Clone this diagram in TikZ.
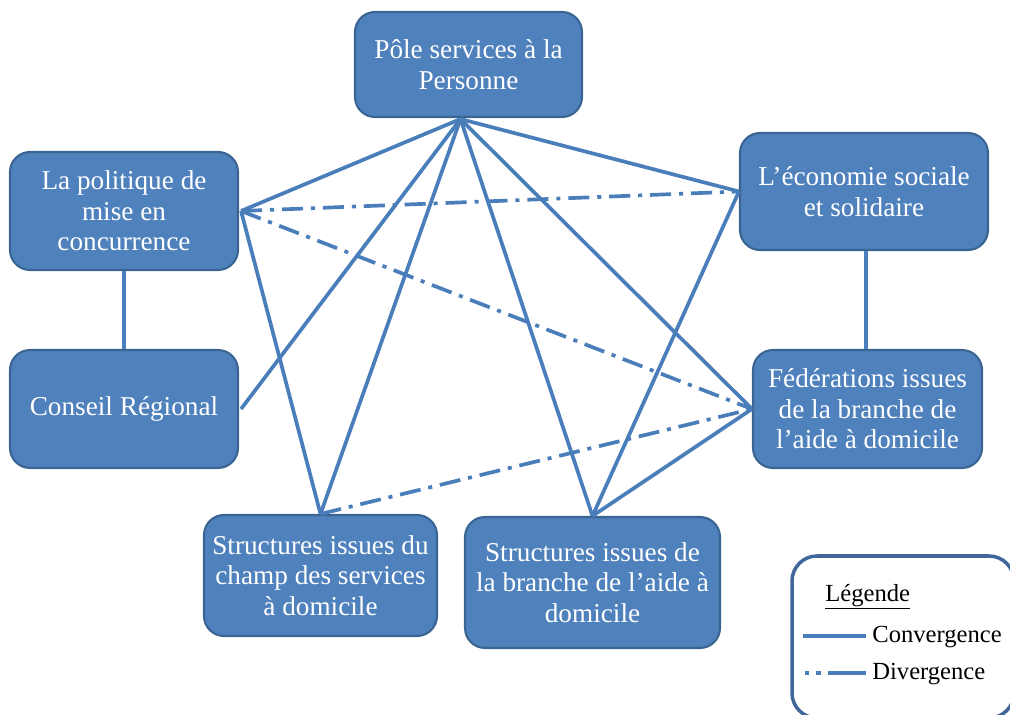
\documentclass[tikz,border=0pt]{standalone}
\usepackage{fontspec}
\setmainfont{Liberation Serif}
\usetikzlibrary{calc}
\definecolor{boxfill}{HTML}{4F81BD}
\definecolor{boxedge}{HTML}{3A6592}
\definecolor{linkc}{HTML}{4A7EBB}
\definecolor{legedge}{HTML}{41679A}
\tikzset{
  box/.style={draw=boxedge, line width=1.2pt, fill=boxfill, rounded corners=0.4cm,
    text=white, align=center, inner sep=2pt,
    font=\fontsize{15.5}{17.3}\selectfont},
  conv/.style={draw=linkc, line width=2.1pt},
  divg/.style={draw=linkc, line width=2.1pt, dash pattern=on 12pt off 4.5pt on 2.3pt off 4.5pt},
  legtext/.style={anchor=base west, inner sep=0pt, font=\fontsize{14}{16}\selectfont}
}
\begin{document}
\begin{tikzpicture}[x=0.02cm, y=-0.02cm]
\useasboundingbox (0,0) rectangle (1010,715);
\clip (0,0) rectangle (1010,715);
% boxes
\node[box, minimum width=4.54cm, minimum height=2.1cm] (pole) at (468.5,64.5) {Pôle services à la\\Personne};
\node[box, minimum width=4.56cm, minimum height=2.36cm] (pol) at (124,211) {La politique de\\mise en\\concurrence};
\node[box, minimum width=4.56cm, minimum height=2.36cm] (cons) at (124,409) {Conseil Régional};
\node[box, minimum width=4.96cm, minimum height=2.34cm] (eco) at (864,191.5) {L’économie sociale\\et solidaire};
\node[box, minimum width=4.58cm, minimum height=2.36cm] (fed) at (867.5,409) {Fédérations issues\\de la branche de\\l’aide à domicile};
\node[box, minimum width=4.66cm, minimum height=2.42cm] (ss) at (320.5,575.5) {Structures issues du\\champ des services\\à domicile};
\node[box, minimum width=5.1cm, minimum height=2.62cm] (sa) at (592.5,582.5) {Structures issues de\\la branche de l’aide à\\domicile};
% anchor points
\coordinate (pP) at ($(pole.south)+(-8,1)$);
\coordinate (polR) at ($(pol.east)+(2,0)$);
\coordinate (consR) at ($(cons.east)+(2,0)$);
\coordinate (ecoL) at (eco.west);
\coordinate (fedL) at (fed.west);
\coordinate (ssT) at (ss.north);
\coordinate (saT) at (sa.north);
% convergence links
\draw[conv] (pP) -- (polR);
\draw[conv] (pP) -- (consR);
\draw[conv] (pP) -- (ssT);
\draw[conv] (pP) -- (saT);
\draw[conv] (pP) -- (fedL);
\draw[conv] (pP) -- (ecoL);
\draw[conv] (polR) -- (ssT);
\draw[conv] (ecoL) -- (saT);
\draw[conv] (fedL) -- (saT);
\draw[conv] (pol.south) -- (cons.north);
\draw[conv] ($(eco.south)+(2,0)$) -- ($(fed.north)+(-1.5,0)$);
% divergence links
\draw[divg] (polR) -- (ecoL);
\draw[divg] (polR) -- (fedL);
\draw[divg] (ssT) -- (fedL);
% legend
\draw[legedge, line width=2pt, fill=white, rounded corners=0.5cm] (792,556) rectangle (1014,718);
\node[legtext] (legT) at (825,601) {\underline{Légende}};
\coordinate (lc1) at (803,636);
\coordinate (lc2) at (866,636);
\draw[conv] (lc1) -- (lc2);
\node[legtext] (legC) at (872,642) {Convergence};
\coordinate (ld1) at (866,673);
\coordinate (ld2) at (803,673);
\draw[draw=linkc, line width=2.3pt, dash pattern=on 21.6pt off 4pt on 2.6pt off 4pt on 2.6pt off 4pt] (ld1) -- (ld2);
\node[legtext] (legD) at (872,679) {Divergence};
\end{tikzpicture}
\end{document}
